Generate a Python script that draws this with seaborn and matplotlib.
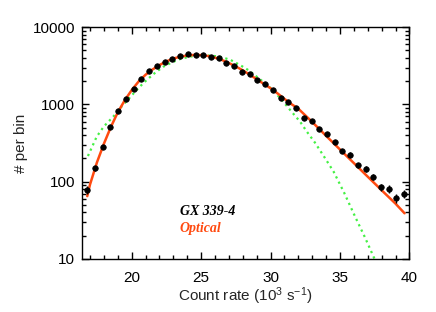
import numpy as np
import matplotlib
matplotlib.use('Agg')
import matplotlib.pyplot as plt
import matplotlib.ticker as mticker
import seaborn as sns

# binned count rates (10^3 counts/s) and number of bins
rate = [16.80, 17.36, 17.91, 18.47, 19.03, 19.58, 20.14, 20.70, 21.26, 21.81,
        22.37, 22.93, 23.48, 24.04, 24.60, 25.15, 25.71, 26.27, 26.82, 27.38,
        27.94, 28.49, 29.05, 29.61, 30.17, 30.72, 31.28, 31.84, 32.39, 32.95,
        33.51, 34.06, 34.62, 35.18, 35.73, 36.29, 36.85, 37.40, 37.96, 38.52,
        39.07, 39.63]
counts = [78, 149, 284, 506, 829, 1185, 1596, 2113, 2704, 3167,
          3567, 3866, 4227, 4446, 4395, 4395, 4067, 3948, 3466, 3167,
          2649, 2451, 2051, 1820, 1549, 1210, 1064, 906, 667, 610,
          481, 410, 323, 252, 224, 163, 146, 115, 85, 81,
          61.5, 70]
errors = np.sqrt(counts)

# lognormal-like fit (red)
fit_x = [16.8, 17.0, 17.5, 18.0, 18.5, 19.0, 19.5, 20.0, 20.5, 21.0, 21.5, 22.0,
         22.5, 23.0, 23.5, 24.0, 24.5, 25.0, 25.5, 26.0, 26.5, 27.0, 27.5, 28.0,
         28.5, 29.0, 29.5, 30.0, 30.5, 31.0, 31.5, 32.0, 33.0, 34.0, 35.0, 36.0,
         37.0, 38.0, 39.0, 39.65]
fit_y = [65, 92, 178, 310, 510, 790, 1130, 1530, 1980, 2420, 2830, 3230,
         3600, 3920, 4150, 4300, 4370, 4340, 4230, 4030, 3760, 3430, 3100, 2760,
         2430, 2120, 1850, 1620, 1390, 1180, 1010, 880, 593, 392, 261, 174,
         116, 77.5, 52, 39]

# gaussian fit (green, dotted)
gauss_x = [16.85, 17.48, 18.0, 18.67, 19.3, 19.88, 20.5, 21.08, 21.7, 22.28,
           22.9, 23.48, 24.1, 24.69, 25.2, 25.8, 26.37, 27.1, 27.8, 28.4,
           29.01, 29.6, 30.21, 30.8, 31.41, 32.13, 32.62, 33.2, 33.9, 34.54,
           35.3, 36.1, 36.8, 37.49]
gauss_y = [215, 382, 520, 693, 950, 1236, 1640, 2070, 2580, 3076,
           3500, 3866, 4130, 4280, 4320, 4260, 4140, 3780, 3236, 2780,
           2280, 1880, 1503, 1150, 847, 597, 443, 320, 205, 135,
           72, 35, 19, 10]

sns.set_theme(style="ticks")
plt.rcParams['font.family'] = ['Liberation Sans', 'DejaVu Sans']
plt.rcParams['mathtext.fontset'] = 'custom'
plt.rcParams['mathtext.rm'] = 'Liberation Sans'
plt.rcParams['mathtext.it'] = 'Liberation Sans:italic'

fig = plt.figure(figsize=(4.36, 3.12), dpi=100)
ax = fig.add_axes([0.188, 0.170, 0.751, 0.743])

sns.lineplot(x=gauss_x, y=gauss_y, ax=ax, color='#44f044', linestyle=':',
             linewidth=1.6, sort=False)
sns.lineplot(x=fit_x, y=fit_y, ax=ax, color='#ff4a10', linewidth=1.8, sort=False)
ax.errorbar(rate, counts, yerr=errors, fmt='none', ecolor='black', elinewidth=1.0)
sns.scatterplot(x=rate, y=counts, ax=ax, color='black', s=16, edgecolor='black',
                linewidth=0.5, zorder=5)

ax.set_yscale('log')
ax.set_xlim(16.42, 40.0)
ax.set_ylim(10, 10000)
ax.set_xticks([20, 25, 30, 35, 40])
ax.xaxis.set_minor_locator(mticker.MultipleLocator(1))
ax.set_yticks([10, 100, 1000, 10000])
ax.yaxis.set_major_formatter(mticker.FuncFormatter(lambda v, p: f'{int(v)}'))
ax.yaxis.set_minor_formatter(mticker.NullFormatter())

ax.tick_params(which='both', direction='in', top=True, right=True,
               colors='black', labelsize=11, width=1.0)
ax.tick_params(which='major', length=5)
ax.tick_params(which='minor', length=3)
ax.tick_params(axis='x', which='major', pad=9)
ax.tick_params(axis='y', which='major', pad=5)
for s in ax.spines.values():
    s.set_linewidth(1.0)
    s.set_color('black')

ax.set_xlabel('Count rate (10$^3$ s$^{-1}$)', fontsize=11, labelpad=0)
ax.set_ylabel('# per bin', fontsize=11, labelpad=3)

ax.text(0.298, 0.19, 'GX 339-4', transform=ax.transAxes, fontsize=10,
        family=['Liberation Serif'], style='italic', weight='bold', color='black')
ax.text(0.298, 0.115, 'Optical', transform=ax.transAxes, fontsize=10,
        family=['Liberation Serif'], style='italic', weight='bold', color='#ff4a10')

fig.savefig('out.png', dpi=100)
